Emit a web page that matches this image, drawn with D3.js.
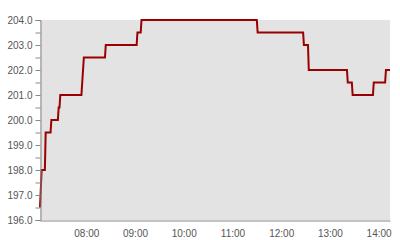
<!DOCTYPE html>
<html>
<head>
<meta charset="utf-8">
<script src="https://cdn.jsdelivr.net/npm/d3@7"></script>
<style>
html,body{margin:0;padding:0;background:#fff;}
svg{display:block;font-family:"Liberation Sans",Arial,sans-serif;}
</style>
</head>
<body>
<svg id="chart" width="400" height="240"></svg>
<script>
// Data
const times = ["07:03","07:05","07:09","07:10","07:16","07:17","07:25","07:26","07:27","07:28",
  "07:54","07:57","08:23","08:24","09:02","09:03","09:07","09:08","11:30","11:31",
  "12:27","12:28","12:33","12:34","13:21","13:22","13:27","13:28","13:53","13:54",
  "14:08","14:09","14:14"];
const values = [196.5,198.0,198.0,199.5,199.5,200.0,200.0,200.5,200.5,201.0,
  201.0,202.5,202.5,203.0,203.0,203.5,203.5,204.0,204.0,203.5,
  203.5,203.0,203.0,202.0,202.0,201.5,201.5,201.0,201.0,201.5,
  201.5,202.0,202.0];
const xDomain = ["07:03","14:14"];
const yDomain = [196, 204];
const yTicks = [196,196.5,197,197.5,198,198.5,199,199.5,200,200.5,201,201.5,202,202.5,203,203.5,204];

const parse = d3.timeParse("%H:%M");
const data = times.map((t,i)=>({t:parse(t), v:values[i]}));

const svg = d3.select("#chart");
const L=40, R=390, T=20, B=220;
const x = d3.scaleTime().domain(xDomain.map(parse)).range([L,R]);
const y = d3.scaleLinear().domain(yDomain).range([B,T]);

svg.append("rect").attr("x",L).attr("y",T).attr("width",R-L).attr("height",B-T).attr("fill","#e3e3e3");

const line = d3.line().x(d=>x(d.t)).y(d=>y(d.v));
svg.append("path").datum(data).attr("d",line)
  .attr("fill","none").attr("stroke","#990000").attr("stroke-width",2).attr("stroke-linejoin","miter");

const yAxis = d3.axisLeft(y).tickValues(yTicks).tickSize(5).tickPadding(3)
  .tickFormat(d=> Number.isInteger(d) ? d3.format(".1f")(d) : "");
const gy = svg.append("g").attr("transform",`translate(${L+0.5},0)`).call(yAxis);
gy.select(".domain").attr("stroke","#888");
gy.selectAll(".tick line").attr("stroke","#888");
gy.selectAll("text").attr("fill","#555").style("font-size","10px").style("font-family","'Liberation Sans',Arial,sans-serif");

const xAxis = d3.axisBottom(x).ticks(d3.timeHour.every(1)).tickSize(0).tickPadding(9)
  .tickFormat(d3.timeFormat("%H:%M"));
const gx = svg.append("g").attr("transform",`translate(0,${B+0.5})`).call(xAxis);
gx.select(".domain").attr("stroke","#888");
gx.selectAll("text").attr("fill","#555").style("font-size","10px").style("font-family","'Liberation Sans',Arial,sans-serif");
</script>
</body>
</html>
